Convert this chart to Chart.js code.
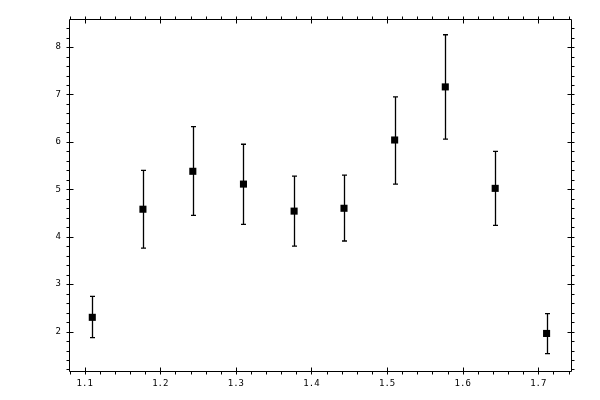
<!DOCTYPE html>
<html>
<head>
<meta charset="utf-8">
<script src="https://cdn.jsdelivr.net/npm/chart.js@4/dist/chart.umd.min.js"></script>
<style>
  html, body { margin: 0; padding: 0; background: #fff; }
  #wrap { width: 600px; height: 400px; }
</style>
</head>
<body>
<div id="wrap"><canvas id="c"></canvas></div>
<script>
const xVals  = [1.110, 1.177, 1.243, 1.310, 1.377, 1.443, 1.510, 1.577, 1.643, 1.711];
const yVals  = [2.30, 4.58, 5.38, 5.11, 4.54, 4.60, 6.04, 7.16, 5.02, 1.96];
const yHigh  = [2.74, 5.40, 6.32, 5.95, 5.28, 5.30, 6.95, 8.26, 5.80, 2.38];
const yLow   = [1.87, 3.76, 4.45, 4.26, 3.80, 3.91, 5.11, 6.06, 4.24, 1.535];

// axis ranges / ticks
const xRange = [1.0792, 1.7433];
const yRange = [1.168, 8.592];
const xMajor = 0.1, xMinor = 0.02;
const yMajor = 1, yMinor = 0.2;

const FONT = { family: 'DejaVu Sans Mono', size: 9 };

// draws the boxed frame with inward/outward ticks on all four sides
const frameTicks = {
  id: 'frameTicks',
  afterDraw(chart) {
    const { ctx, chartArea: a, scales: { x, y } } = chart;
    ctx.save();
    ctx.strokeStyle = '#000';
    ctx.lineWidth = 1;
    ctx.beginPath();
    ctx.rect(Math.round(a.left) + 0.5, Math.round(a.top) + 0.5,
             Math.round(a.right - a.left), Math.round(a.bottom - a.top));
    ctx.stroke();

    const L = Math.round(a.left) + 0.5, R = Math.round(a.right) + 0.5;
    const T = Math.round(a.top) + 0.5, B = Math.round(a.bottom) + 0.5;
    ctx.beginPath();
    // x ticks
    const nx = Math.round((xRange[1] - xRange[0]) / xMinor) + 2;
    const x0 = Math.ceil(xRange[0] / xMinor - 1e-6);
    for (let i = x0; i < x0 + nx; i++) {
      const v = i * xMinor;
      if (v > xRange[1]) break;
      const px = Math.round(x.getPixelForValue(v)) + 0.5;
      const major = Math.abs(v / xMajor - Math.round(v / xMajor)) < 1e-6;
      ctx.moveTo(px, B + 3); ctx.lineTo(px, major ? B - 4 : B);
      ctx.moveTo(px, T - 3); ctx.lineTo(px, major ? T + 4 : T);
    }
    // y ticks
    const y0 = Math.ceil(yRange[0] / yMinor - 1e-6);
    for (let i = y0; ; i++) {
      const v = i * yMinor;
      if (v > yRange[1]) break;
      const py = Math.round(y.getPixelForValue(v)) + 0.5;
      const major = Math.abs(v / yMajor - Math.round(v / yMajor)) < 1e-6;
      ctx.moveTo(L - 3, py); ctx.lineTo(major ? L + 4 : L, py);
      ctx.moveTo(R + 3, py); ctx.lineTo(major ? R - 4 : R, py);
    }
    ctx.stroke();
    ctx.restore();
  }
};

// vertical error bars with small caps
const errorBars = {
  id: 'errorBars',
  beforeDatasetsDraw(chart) {
    const { ctx, scales: { x, y } } = chart;
    ctx.save();
    ctx.strokeStyle = '#000';
    ctx.lineWidth = 1.3;
    ctx.beginPath();
    xVals.forEach((xv, i) => {
      const px = Math.round(x.getPixelForValue(xv)) + 0.5;
      const top = y.getPixelForValue(yHigh[i]);
      const bot = y.getPixelForValue(yLow[i]);
      ctx.moveTo(px, top); ctx.lineTo(px, bot);
      ctx.moveTo(px - 2.5, top); ctx.lineTo(px + 2.5, top);
      ctx.moveTo(px - 2.5, bot); ctx.lineTo(px + 2.5, bot);
    });
    ctx.stroke();
    ctx.restore();
  }
};

new Chart(document.getElementById('c'), {
  type: 'scatter',
  data: {
    datasets: [{
      data: xVals.map((xv, i) => ({ x: xv, y: yVals[i] })),
      pointStyle: 'rect',
      pointRadius: 5,
      pointHoverRadius: 5,
      pointBorderWidth: 0,
      backgroundColor: '#000',
      borderColor: '#000',
    }]
  },
  options: {
    responsive: true,
    maintainAspectRatio: false,
    animation: false,
    events: [],
    layout: { padding: { top: 19, right: 29, left: 0, bottom: 0 } },
    plugins: { legend: { display: false }, tooltip: { enabled: false } },
    scales: {
      x: {
        type: 'linear',
        min: xRange[0], max: xRange[1],
        border: { display: false },
        grid: { display: false, drawTicks: false },
        afterBuildTicks: s => {
          const t = [];
          for (let v = 1.1; v <= xRange[1] + 1e-9; v += xMajor) t.push({ value: +v.toFixed(1) });
          s.ticks = t;
        },
        afterFit: s => { s.height = 29; },
        ticks: {
          color: '#000', font: FONT, padding: 7, maxRotation: 0,
          callback: v => v.toFixed(1),
        },
      },
      y: {
        type: 'linear',
        min: yRange[0], max: yRange[1],
        border: { display: false },
        grid: { display: false, drawTicks: false },
        afterBuildTicks: s => {
          const t = [];
          for (let v = 2; v <= yRange[1]; v += yMajor) t.push({ value: v });
          s.ticks = t;
        },
        afterFit: s => { s.width = 69; },
        ticks: { color: '#000', font: FONT, padding: 8, callback: v => String(v) },
      },
    },
  },
  plugins: [errorBars, frameTicks],
});
</script>
</body>
</html>
